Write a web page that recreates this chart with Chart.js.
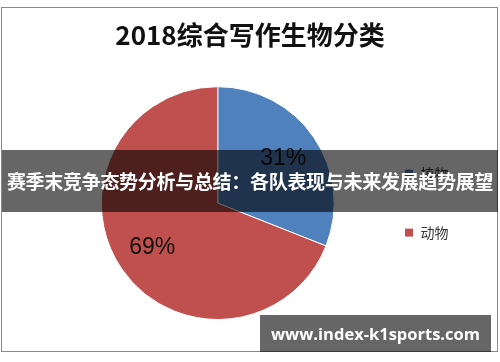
<!DOCTYPE html>
<html>
<head>
<meta charset="utf-8">
<script src="https://cdn.jsdelivr.net/npm/chart.js@4.4.0/dist/chart.umd.min.js"></script>
<style>
  body { margin: 0; background: #fff; }
  #wrap { position: relative; width: 500px; height: 362px; overflow: hidden; }
  #frame { position: absolute; left: 1px; top: 7px; width: 495px; height: 343px; border: 1px solid #8a8a8a; }
  #chart { position: absolute; left: 0; top: 0; }
  #banner {
    position: absolute; left: 2px; top: 150px; width: 496px; height: 62px;
    background: rgba(0,0,0,0.6); color: #fff;
    font: bold 19px "Noto Sans CJK SC", sans-serif;
    line-height: 62px; text-align: center; white-space: nowrap; letter-spacing: -0.3px;
  }
  #mark {
    position: absolute; left: 260px; top: 315px; width: 231px; height: 37px;
    background: rgba(0,0,0,0.6); color: #fff;
    font: bold 16.5px "Open Sans", sans-serif;
    line-height: 37px; text-align: center;
  }
</style>
</head>
<body>
<div id="wrap">
  <div id="frame"></div>
  <canvas id="chart" width="500" height="362"></canvas>
  <div id="banner">赛季末竞争态势分析与总结：各队表现与未来发展趋势展望</div>
  <div id="mark">www.index-k1sports.com</div>
</div>
<script>
const titleText = "2018综合写作生物分类";
const categories = ["植物", "动物"];
const shares = [31, 69];
const colors = ["#4F81BD", "#C0504D"];

// percent labels inside each slice
const sliceLabels = {
  id: "sliceLabels",
  afterDatasetsDraw(chart) {
    const ctx = chart.ctx;
    const meta = chart.getDatasetMeta(0);
    ctx.save();
    ctx.font = '23px "Liberation Sans", sans-serif';
    ctx.fillStyle = "#111";
    ctx.textAlign = "center";
    ctx.textBaseline = "middle";
    meta.data.forEach((arc, i) => {
      const mid = (arc.startAngle + arc.endAngle) / 2;
      const r = arc.outerRadius * 0.68;
      const x = arc.x + Math.cos(mid) * r;
      const y = arc.y + Math.sin(mid) * r;
      ctx.fillText(shares[i] + "%", x, y);
    });
    ctx.restore();
  }
};

new Chart(document.getElementById("chart").getContext("2d"), {
  type: "pie",
  data: {
    labels: categories,
    datasets: [{
      data: shares,
      backgroundColor: colors,
      borderColor: "#fff",
      borderWidth: 1
    }]
  },
  options: {
    responsive: false,
    animation: false,
    layout: { padding: { left: 41.5, right: 41.5, top: 0, bottom: 42 } },
    plugins: {
      title: {
        display: true,
        text: titleText,
        color: "#111",
        font: { family: '"Noto Sans CJK SC", sans-serif', size: 26, weight: "bold" },
        padding: { top: 20, bottom: 35 }
      },
      // blank spacer on the left so the pie sits left of the title centre
      subtitle: {
        display: true,
        position: "left",
        text: " ",
        font: { size: 10 },
        padding: { top: 0, bottom: 22.5 }
      },
      legend: {
        position: "right",
        fullSize: false,
        labels: {
          color: "#333",
          boxWidth: 9,
          boxHeight: 9,
          padding: 45,
          font: { family: '"Noto Sans CJK SC", sans-serif', size: 14 }
        }
      },
      tooltip: { enabled: false }
    }
  },
  plugins: [sliceLabels]
});
</script>
</body>
</html>
